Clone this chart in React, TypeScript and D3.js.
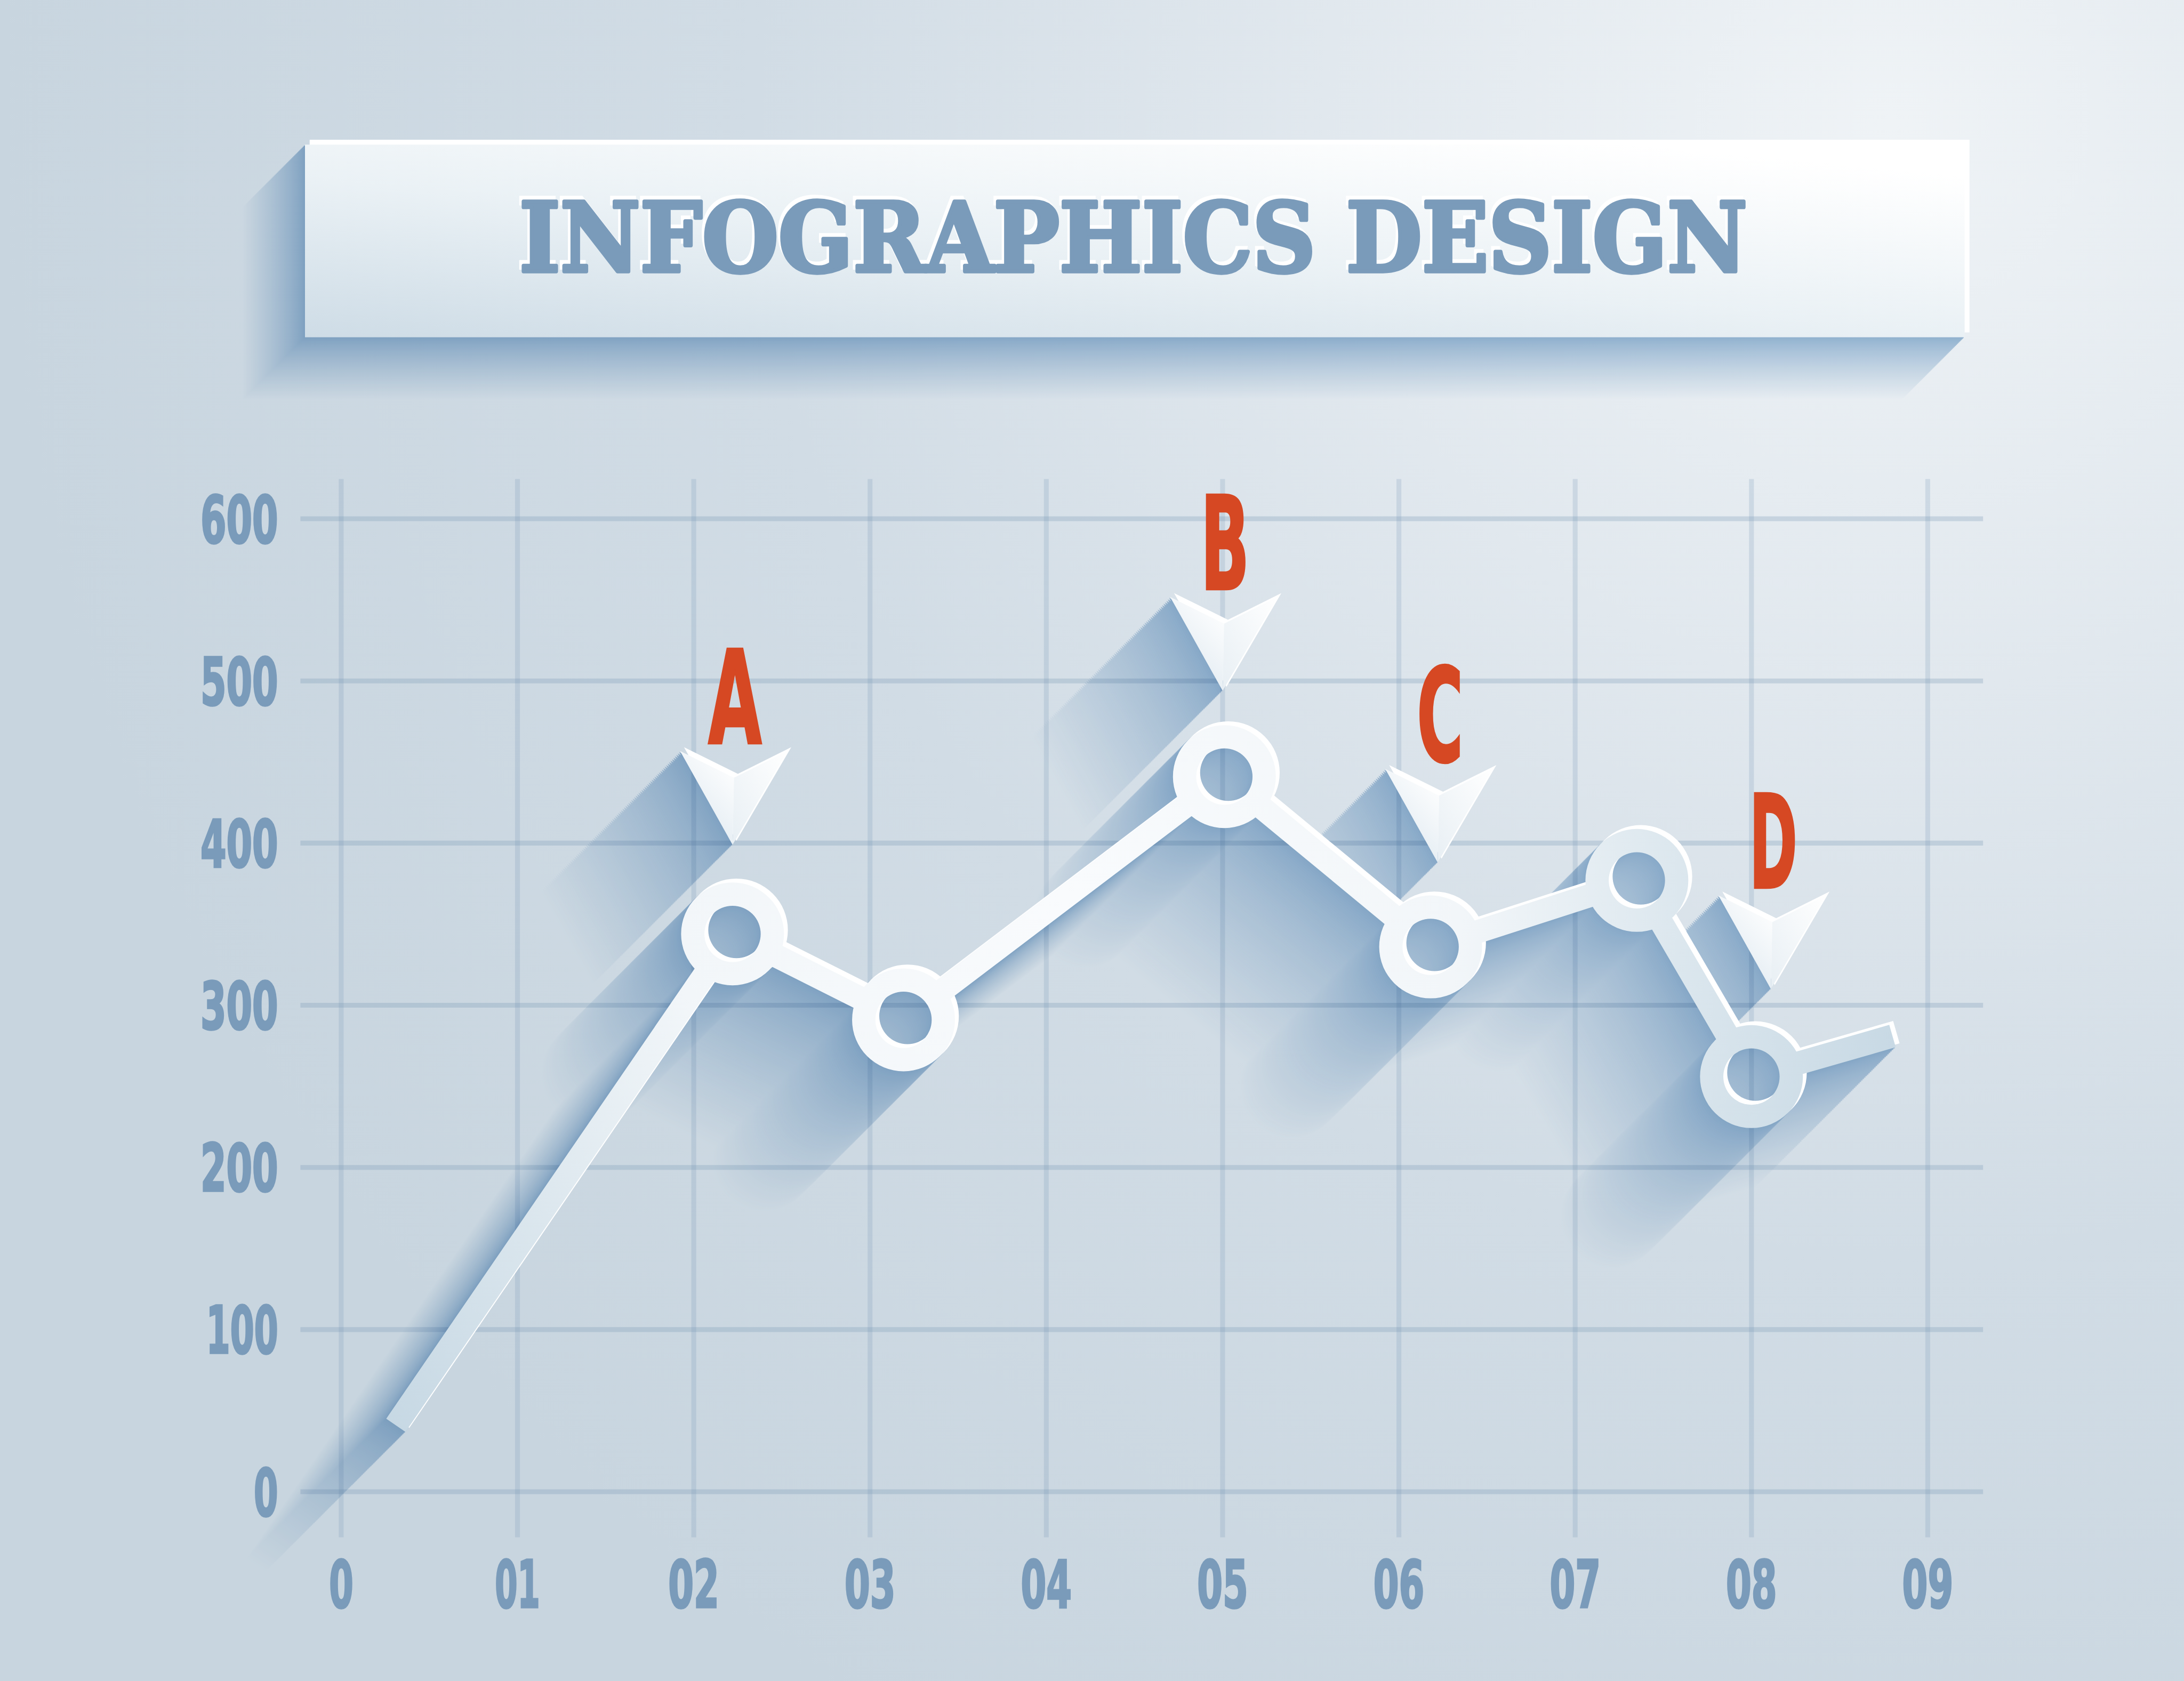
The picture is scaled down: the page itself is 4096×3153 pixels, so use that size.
import * as d3 from 'd3';

// axis ticks
const xTickLabels = ['0', '01', '02', '03', '04', '05', '06', '07', '08', '09'];
const yTickValues = [0, 100, 200, 300, 400, 500, 600];

// line vertices (x in tick units, y in value units)
const pointX = [0.31, 2.22, 3.19, 5.01, 6.18, 7.35, 8.0, 8.8];
const pointY = [41, 344, 291, 441, 336, 377, 256, 281];
const pointRing = [false, true, true, true, true, true, true, false];

// pointer markers (tip position)
const markerNames = ['A', 'B', 'C', 'D'];
const markerX = [2.22, 5.0, 6.22, 8.11];
const markerY = [399, 494, 388, 310];

const TITLE = 'INFOGRAPHICS DESIGN';

const LABEL_COLOR = '#7a9bba';
const RED = '#d64823';
const NARROW = "'Liberation Sans Narrow', 'DejaVu Sans Condensed', Roboto, sans-serif";

const digitWidth = (s: string) =>
  s.split('').reduce((w, c) => w + (c === '1' ? 34 : 46), 0) + (s.length - 1) * 9 + 4;
const letterWidth: Record<string, number> = { A: 110, B: 100, C: 95, D: 99 };

type Pt = [number, number];

export default function App() {
  const W = 4500;
  const H = 3464;

  const x = d3.scaleLinear().domain([0, 9]).range([703, 3972]);
  const y = d3.scaleLinear().domain([0, 600]).range([3074, 1069]);

  const LINE_W = 48;
  const R_OUT = 106;
  const R_IN = 58;
  const TRIM = 72;

  const pts: Pt[] = pointX.map((v, i) => [x(v), y(pointY[i])]);

  // segments stop inside the ring body so the holes stay open
  const segs = pts.slice(1).map((b, i) => {
    const a = pts[i];
    const dx = b[0] - a[0];
    const dy = b[1] - a[1];
    const len = Math.hypot(dx, dy);
    const ux = dx / len;
    const uy = dy / len;
    const ta = pointRing[i] ? TRIM : 0;
    const tb = pointRing[i + 1] ? TRIM : 0;
    return [a[0] + ux * ta, a[1] + uy * ta, b[0] - ux * tb, b[1] - uy * tb];
  });

  // annulus in absolute coordinates (keeps userSpace gradients aligned)
  const ring = (cx: number, cy: number) => {
    const p = d3.path();
    p.moveTo(cx + R_OUT, cy);
    p.arc(cx, cy, R_OUT, 0, 2 * Math.PI);
    p.closePath();
    p.moveTo(cx + R_IN, cy);
    p.arc(cx, cy, R_IN, 0, 2 * Math.PI, true);
    p.closePath();
    return p.toString();
  };
  const ringPaths = pts.filter((_, i) => pointRing[i]).map((p) => ring(p[0], p[1]));

  const markers = markerNames.map((name, i) => {
    const tx = x(markerX[i]);
    const ty = y(markerY[i]);
    return {
      name,
      tip: [tx, ty] as Pt,
      left: [tx - 108, ty - 193] as Pt,
      right: [tx + 113, ty - 193] as Pt,
      notch: [tx + 3, ty - 138] as Pt,
    };
  });

  const poly = (ps: Pt[]) => 'M' + ps.map((p) => p.join(',')).join('L') + 'Z';

  const drawShape = (color: string, dx: number, dy: number, key: string) => (
    <g key={key} transform={`translate(${dx},${dy})`}>
      {segs.map((s, i) => (
        <line key={i} x1={s[0]} y1={s[1]} x2={s[2]} y2={s[3]} stroke={color} strokeWidth={LINE_W} />
      ))}
      {ringPaths.map((d, i) => (
        <path key={'r' + i} d={d} fill={color} fillRule="evenodd" />
      ))}
      {markers.map((m, i) => (
        <path key={'m' + i} d={poly([m.left, m.notch, m.right, m.tip])} fill={color} />
      ))}
    </g>
  );

  // long shadows toward the bottom-left
  const shade = d3.interpolateRgb('#9bbcd9', '#ffffff');
  const SH_LEN = 290;
  const shadowSteps = d3.range(SH_LEN, 0, -3);

  const banner = { x0: 628, y0: 298, x1: 4048, y1: 695 };
  const BAN_LEN = 130;
  const bannerSteps = d3.range(BAN_LEN, 0, -2);

  return (
    <svg
      width={4096}
      height={3153}
      viewBox={`0 0 ${W} ${H}`}
      style={{ position: 'absolute', left: 0, top: 0, display: 'block' }}
    >
      <defs>
        <radialGradient id="bg" gradientUnits="userSpaceOnUse" cx={3900} cy={250} r={3900}>
          <stop offset="0" stopColor="#eff3f6" />
          <stop offset="0.3" stopColor="#e1e8ee" />
          <stop offset="0.6" stopColor="#d1dce5" />
          <stop offset="1" stopColor="#c8d5df" />
        </radialGradient>
        <radialGradient id="lineGrad" gradientUnits="userSpaceOnUse" cx={2200} cy={1850} r={1800}>
          <stop offset="0" stopColor="#f9fbfd" />
          <stop offset="0.45" stopColor="#f2f6f9" />
          <stop offset="0.7" stopColor="#dce7ee" />
          <stop offset="1" stopColor="#c5d7e3" />
        </radialGradient>
        <linearGradient id="bannerGrad" x1="0" y1="1" x2="0.8" y2="0">
          <stop offset="0" stopColor="#cedce6" />
          <stop offset="0.5" stopColor="#eaf1f5" />
          <stop offset="1" stopColor="#ffffff" />
        </linearGradient>
        <linearGradient id="leftFace" x1="0.8" y1="0" x2="0.2" y2="1">
          <stop offset="0" stopColor="#ffffff" />
          <stop offset="1" stopColor="#dce7ef" />
        </linearGradient>
        <linearGradient id="rightFace" x1="1" y1="0" x2="0" y2="1">
          <stop offset="0" stopColor="#ffffff" />
          <stop offset="1" stopColor="#e8eff4" />
        </linearGradient>
      </defs>

      <rect x={0} y={0} width={W} height={H} fill="url(#bg)" />

      {/* grid */}
      <g>
        {xTickLabels.map((_, i) => (
          <line key={'v' + i} x1={x(i)} x2={x(i)} y1={987} y2={3168} stroke="rgb(120,150,180)" strokeOpacity={0.22} strokeWidth={10} />
        ))}
        {yTickValues.map((v) => (
          <line key={'h' + v} x1={619} x2={4086} y1={y(v)} y2={y(v)} stroke="rgb(120,150,180)" strokeOpacity={0.28} strokeWidth={10} />
        ))}
      </g>

      {/* axis labels */}
      <g fill={LABEL_COLOR} stroke={LABEL_COLOR} strokeWidth={4} fontFamily={NARROW} fontWeight={700} fontSize={135}>
        {yTickValues.map((v) => (
          <text key={v} x={573} y={y(v) + 49} textAnchor="end" textLength={digitWidth(String(v))} lengthAdjust="spacingAndGlyphs">
            {v}
          </text>
        ))}
        {xTickLabels.map((s, i) => (
          <text key={s} x={x(i)} y={3312} textAnchor="middle" textLength={digitWidth(s)} lengthAdjust="spacingAndGlyphs">
            {s}
          </text>
        ))}
      </g>

      {/* banner */}
      <g style={{ mixBlendMode: 'multiply' }}>
        {bannerSteps.map((t) => (
          <rect
            key={t}
            x={banner.x0 - t}
            y={banner.y0 + t}
            width={banner.x1 - banner.x0}
            height={banner.y1 - banner.y0}
            fill={shade(Math.pow(t / BAN_LEN, 0.8))}
          />
        ))}
      </g>
      <rect x={banner.x0 + 10} y={banner.y0 - 10} width={banner.x1 - banner.x0} height={banner.y1 - banner.y0} fill="#ffffff" />
      <rect x={banner.x0} y={banner.y0} width={banner.x1 - banner.x0} height={banner.y1 - banner.y0} fill="url(#bannerGrad)" />
      <g fontFamily="'DejaVu Serif', serif" fontWeight={700} fontSize={197} textAnchor="middle">
        <text x={2330} y={551} fill="#ffffff" stroke="#ffffff" strokeWidth={8} textLength={2530} lengthAdjust="spacingAndGlyphs">
          {TITLE}
        </text>
        <text x={2335} y={559} fill={LABEL_COLOR} stroke={LABEL_COLOR} strokeWidth={8} strokeLinejoin="round" textLength={2530} lengthAdjust="spacingAndGlyphs">
          {TITLE}
        </text>
      </g>

      {/* line shadows */}
      <g style={{ mixBlendMode: 'multiply' }}>
        {shadowSteps.map((t) => drawShape(shade(Math.pow(t / SH_LEN, 0.7)), -t, t, 's' + t))}
      </g>

      {/* lit rim */}
      {drawShape('#ffffff', 8, -8, 'rim')}

      {/* line + rings */}
      <g>
        {segs.map((s, i) => (
          <line key={i} x1={s[0]} y1={s[1]} x2={s[2]} y2={s[3]} stroke="url(#lineGrad)" strokeWidth={LINE_W} />
        ))}
        {ringPaths.map((d, i) => (
          <path key={'r' + i} d={d} fill="url(#lineGrad)" fillRule="evenodd" />
        ))}
      </g>

      {/* pointers */}
      {markers.map((m) => (
        <g key={m.name}>
          <path d={poly([m.left, m.notch, m.tip])} fill="url(#leftFace)" />
          <path d={poly([m.notch, m.right, m.tip])} fill="url(#rightFace)" />
          <text
            x={m.tip[0] + 5}
            y={m.tip[1] - 209}
            textAnchor="middle"
            fill={RED}
            stroke={RED}
            strokeWidth={5}
            fontFamily={NARROW}
            fontWeight={700}
            fontSize={267}
            textLength={letterWidth[m.name]}
            lengthAdjust="spacingAndGlyphs"
          >
            {m.name}
          </text>
        </g>
      ))}
    </svg>
  );
}
